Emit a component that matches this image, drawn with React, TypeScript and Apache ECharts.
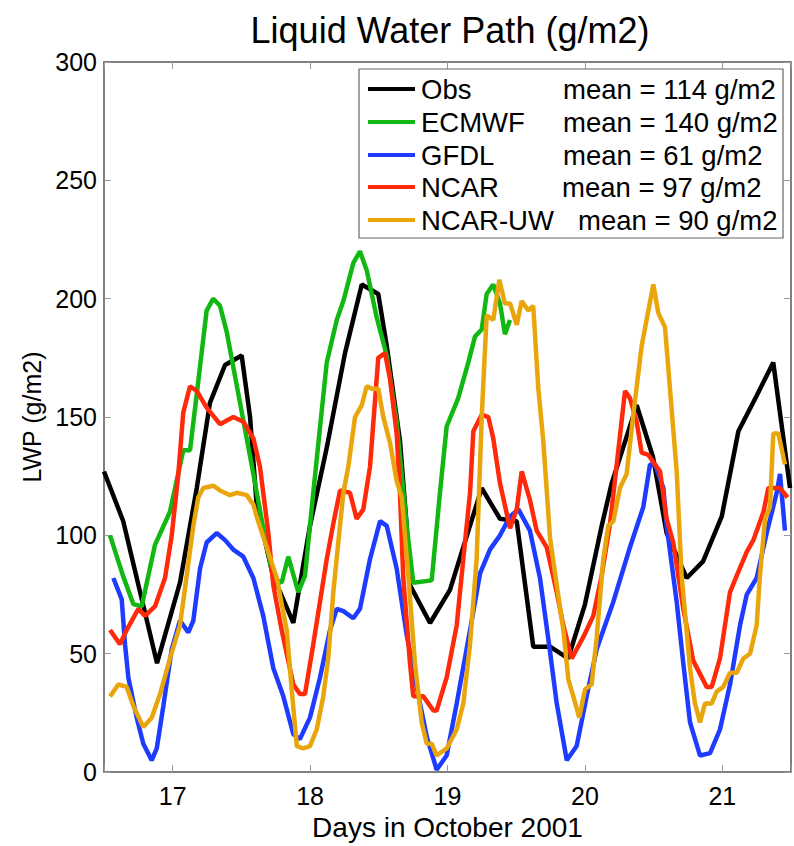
import React, { useEffect, useRef } from "react";
import * as echarts from "echarts";

const FONT = "'Liberation Sans', Arial, Helvetica, sans-serif";

const seriesNames = ["Obs", "ECMWF", "GFDL", "NCAR", "NCAR-UW"];
const seriesColors = ["#000000", "#12b812", "#1e3cff", "#ff2a0a", "#e8a60c"];
const legendMeans = ["mean = 114 g/m2", "mean = 140 g/m2", "mean = 61 g/m2", "mean = 97 g/m2", "mean = 90 g/m2"];
const legendMeanX = [563, 563, 563, 562, 578];

const yTicks = [0, 50, 100, 150, 200, 250, 300];
const xTickDays = [17, 18, 19, 20, 21];

const obs: number[][] = [
  [16.5, 127], [16.64, 106], [16.886, 46], [17.053, 80], [17.175, 120], [17.271, 156], [17.381, 172],
  [17.502, 176], [17.563, 150], [17.611, 113], [17.73, 83], [17.878, 63], [17.999, 104], [18.121, 137],
  [18.254, 177], [18.376, 206], [18.496, 202], [18.558, 180], [18.654, 140], [18.703, 104], [18.727, 79],
  [18.873, 63], [19.018, 77], [19.249, 120], [19.382, 107], [19.504, 106], [19.624, 53], [19.746, 53],
  [19.878, 48], [20.001, 71], [20.122, 104], [20.195, 122], [20.377, 155], [20.496, 133], [20.595, 101],
  [20.741, 82], [20.86, 89], [20.996, 108], [21.117, 144], [21.25, 159], [21.371, 173], [21.493, 120],
];

const ecmwf: number[][] = [
  [16.544, 100], [16.638, 83], [16.713, 71], [16.774, 70], [16.871, 96], [16.98, 110], [17.077, 136],
  [17.126, 136], [17.186, 165], [17.247, 195], [17.295, 200], [17.344, 197], [17.393, 186], [17.49, 156],
  [17.587, 126], [17.659, 103], [17.732, 82], [17.793, 80], [17.841, 91], [17.914, 76], [17.963, 83],
  [18.023, 118], [18.121, 173], [18.194, 191], [18.242, 199], [18.314, 215], [18.363, 220], [18.412, 212],
  [18.485, 192], [18.558, 176], [18.63, 148], [18.703, 104], [18.751, 80], [18.885, 81], [18.945, 118],
  [18.994, 146], [19.078, 158], [19.151, 173], [19.2, 184], [19.249, 187], [19.285, 202], [19.333, 206],
  [19.382, 198], [19.418, 185], [19.455, 191],
];

const gfdl: number[][] = [
  [16.568, 82], [16.629, 73], [16.653, 54], [16.677, 40], [16.738, 23], [16.786, 12], [16.847, 5],
  [16.884, 10], [16.932, 28], [16.993, 52], [17.053, 64], [17.114, 59], [17.15, 64], [17.199, 86],
  [17.247, 97], [17.32, 101], [17.381, 98], [17.441, 94], [17.514, 91], [17.587, 82], [17.659, 66],
  [17.732, 44], [17.805, 32], [17.878, 16], [17.926, 14], [17.999, 23], [18.072, 40], [18.145, 60],
  [18.194, 69], [18.242, 68], [18.314, 65], [18.363, 69], [18.436, 90], [18.509, 106], [18.558, 104],
  [18.63, 86], [18.703, 58], [18.776, 36], [18.849, 15], [18.921, 1], [18.994, 7], [19.067, 29],
  [19.164, 60], [19.237, 84], [19.309, 94], [19.382, 100], [19.455, 108], [19.516, 111], [19.6, 102],
  [19.673, 82], [19.746, 51], [19.795, 29], [19.868, 5], [19.94, 11], [20.013, 32], [20.086, 52],
  [20.207, 72], [20.328, 95], [20.425, 112], [20.474, 130], [20.51, 130], [20.571, 120], [20.595, 104],
  [20.668, 72], [20.716, 46], [20.765, 21], [20.838, 7], [20.911, 8], [20.983, 18], [21.056, 37],
  [21.129, 62], [21.178, 75], [21.25, 82], [21.323, 101], [21.396, 118], [21.42, 126], [21.456, 102],
];

const ncar: number[][] = [
  [16.544, 60], [16.616, 54], [16.665, 60], [16.75, 69], [16.798, 66], [16.871, 70], [16.944, 82],
  [16.993, 100], [17.041, 126], [17.077, 152], [17.126, 163], [17.175, 161], [17.247, 154], [17.344, 147],
  [17.441, 150], [17.514, 148], [17.587, 141], [17.635, 129], [17.696, 101], [17.732, 79], [17.793, 60],
  [17.878, 37], [17.926, 33], [17.963, 33], [18.023, 54], [18.121, 90], [18.169, 105], [18.218, 119],
  [18.29, 118], [18.339, 107], [18.387, 111], [18.436, 129], [18.496, 175], [18.545, 177], [18.582, 166],
  [18.63, 143], [18.654, 118], [18.678, 82], [18.727, 46], [18.751, 32], [18.824, 32], [18.897, 26],
  [18.921, 26], [18.994, 40], [19.067, 62], [19.115, 90], [19.164, 118], [19.188, 144], [19.249, 151],
  [19.297, 150], [19.333, 141], [19.382, 122], [19.455, 103], [19.504, 111], [19.54, 127], [19.6, 115],
  [19.649, 102], [19.722, 95], [19.795, 76], [19.843, 62], [19.904, 48], [19.988, 57], [20.061, 66],
  [20.122, 83], [20.183, 105], [20.292, 161], [20.328, 158], [20.377, 148], [20.413, 135], [20.462, 134],
  [20.51, 130], [20.547, 127], [20.595, 107], [20.643, 97], [20.716, 69], [20.789, 47], [20.886, 36],
  [20.923, 36], [20.983, 48], [21.056, 76], [21.105, 83], [21.178, 93], [21.226, 98], [21.3, 110],
  [21.335, 120], [21.42, 120], [21.475, 116],
];

const ncarUw: number[][] = [
  [16.544, 32], [16.604, 37], [16.665, 36], [16.713, 28], [16.786, 19], [16.847, 23], [16.908, 33],
  [16.98, 48], [17.053, 62], [17.102, 83], [17.15, 104], [17.186, 116], [17.223, 120], [17.295, 121],
  [17.344, 119], [17.417, 117], [17.466, 118], [17.539, 117], [17.587, 113], [17.611, 108], [17.684, 95],
  [17.757, 82], [17.83, 60], [17.866, 35], [17.903, 11], [17.95, 10], [17.999, 11], [18.048, 18],
  [18.096, 32], [18.132, 48], [18.169, 76], [18.205, 97], [18.242, 118], [18.278, 129], [18.327, 150],
  [18.376, 155], [18.412, 163], [18.448, 162], [18.496, 162], [18.533, 150], [18.582, 139], [18.63, 123],
  [18.667, 116], [18.715, 83], [18.763, 46], [18.812, 21], [18.849, 12], [18.885, 12], [18.921, 7],
  [18.994, 10], [19.067, 18], [19.115, 29], [19.164, 54], [19.212, 90], [19.249, 150], [19.285, 193],
  [19.333, 191], [19.377, 208], [19.418, 198], [19.455, 198], [19.504, 189], [19.54, 199], [19.588, 195],
  [19.624, 197], [19.661, 162], [19.697, 140], [19.746, 99], [19.795, 79], [19.843, 60], [19.88, 39],
  [19.916, 32], [19.959, 23], [20.001, 35], [20.049, 37], [20.086, 57], [20.134, 90], [20.17, 104],
  [20.207, 106], [20.255, 120], [20.304, 126], [20.352, 151], [20.413, 180], [20.462, 195], [20.498, 206],
  [20.534, 194], [20.583, 188], [20.619, 162], [20.668, 127], [20.704, 83], [20.765, 44], [20.801, 29],
  [20.838, 21], [20.874, 29], [20.923, 29], [20.959, 34], [21.007, 36], [21.056, 42], [21.105, 42],
  [21.153, 48], [21.202, 50], [21.25, 62], [21.274, 83], [21.311, 107], [21.347, 112], [21.371, 143],
  [21.408, 143], [21.456, 130],
];

const allData = [obs, ecmwf, gfdl, ncar, ncarUw];

export default function App() {
  const ref = useRef<HTMLDivElement>(null);

  useEffect(() => {
    if (!ref.current) return;
    const chart = echarts.init(ref.current, undefined, { renderer: "svg" });

    const axisLineStyle = { color: "#555", width: 1.5 };
    const tickStyle = { color: "#999", width: 1 };

    const xFormatter = (v: number) => (xTickDays.indexOf(v) >= 0 ? String(v) : "");
    const yFormatter = (v: number) => (yTicks.indexOf(v) >= 0 ? String(v) : "");

    const legendLeft = 359;
    const legendTop = 69;
    const rowY = [89, 122, 155, 187, 220];
    const legendChildren: any[] = [
      {
        type: "rect",
        shape: { x: legendLeft, y: legendTop, width: 424, height: 169 },
        style: { fill: "#fff", stroke: "#666", lineWidth: 1.2 },
        z: 100,
      },
    ];
    seriesNames.forEach((name, i) => {
      legendChildren.push({
        type: "line",
        shape: { x1: 368, y1: rowY[i], x2: 415, y2: rowY[i] },
        style: { stroke: seriesColors[i], lineWidth: 4 },
        z: 101,
      });
      legendChildren.push({
        type: "text",
        x: 421,
        y: rowY[i],
        style: { text: name, fill: "#000", font: `27.5px ${FONT}`, textVerticalAlign: "middle", textAlign: "left" },
        z: 101,
      });
      legendChildren.push({
        type: "text",
        x: legendMeanX[i],
        y: rowY[i],
        style: { text: legendMeans[i], fill: "#000", font: `27.5px ${FONT}`, textVerticalAlign: "middle", textAlign: "left" },
        z: 101,
      });
    });

    chart.setOption({
      animation: false,
      backgroundColor: "#fff",
      grid: { left: 104, top: 62, width: 687, height: 721, containLabel: false },
      graphic: [
        {
          type: "text",
          x: 450,
          y: 30,
          style: {
            text: "Liquid Water Path (g/m2)",
            fill: "#000",
            font: `36px ${FONT}`,
            textAlign: "center",
            textVerticalAlign: "middle",
          },
        },
        ...legendChildren,
      ],
      xAxis: [
        {
          type: "value",
          min: 16.5,
          max: 21.5,
          splitNumber: 5,
          position: "bottom",
          axisLine: { show: true, onZero: false, lineStyle: axisLineStyle },
          axisTick: { show: true, inside: true, length: 7, lineStyle: tickStyle },
          axisLabel: { formatter: xFormatter, fontSize: 25, color: "#000", fontFamily: FONT, margin: 11 },
          splitLine: { show: false },
          name: "Days in October 2001",
          nameLocation: "middle",
          nameGap: 36,
          nameTextStyle: { fontSize: 28, color: "#000", fontFamily: FONT },
        },
        {
          type: "value",
          min: 16.5,
          max: 21.5,
          splitNumber: 5,
          position: "top",
          axisLine: { show: true, onZero: false, lineStyle: axisLineStyle },
          axisTick: { show: true, inside: true, length: 7, lineStyle: tickStyle },
          axisLabel: { show: false },
          splitLine: { show: false },
        },
      ],
      yAxis: [
        {
          type: "value",
          min: 0,
          max: 300,
          interval: 50,
          position: "left",
          axisLine: { show: true, onZero: false, lineStyle: axisLineStyle },
          axisTick: { show: true, inside: true, length: 7, lineStyle: tickStyle },
          axisLabel: { formatter: yFormatter, fontSize: 25, color: "#000", fontFamily: FONT, margin: 7 },
          splitLine: { show: false },
          name: "LWP (g/m2)",
          nameLocation: "middle",
          nameGap: 57,
          nameTextStyle: { fontSize: 25, color: "#000", fontFamily: FONT },
        },
        {
          type: "value",
          min: 0,
          max: 300,
          interval: 50,
          position: "right",
          axisLine: { show: true, onZero: false, lineStyle: axisLineStyle },
          axisTick: { show: true, inside: true, length: 7, lineStyle: tickStyle },
          axisLabel: { show: false },
          splitLine: { show: false },
        },
      ],
      series: allData.map((d, i) => ({
        name: seriesNames[i],
        type: "line",
        data: d,
        xAxisIndex: 0,
        yAxisIndex: 0,
        showSymbol: false,
        symbol: "none",
        smooth: false,
        lineStyle: { color: seriesColors[i], width: 4.5 },
        itemStyle: { color: seriesColors[i] },
        z: 2 + i,
      })),
    });

    return () => chart.dispose();
  }, []);

  return (
    <div
      ref={ref}
      style={{ position: "absolute", left: 0, top: 0, width: 794, height: 846, background: "#fff" }}
    />
  );
}
